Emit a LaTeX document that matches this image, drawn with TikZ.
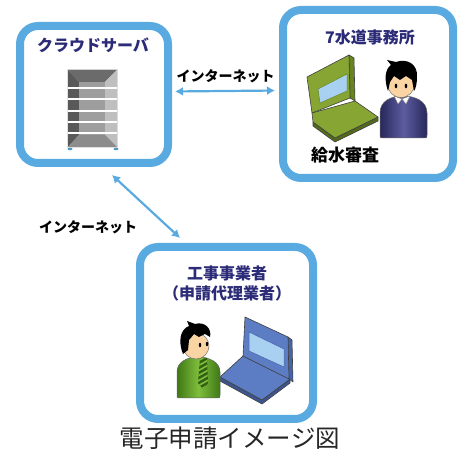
\documentclass[tikz,border=0pt]{standalone}
\usepackage{fontspec}
\setmainfont{Noto Sans CJK JP}
\usetikzlibrary{arrows.meta}

\definecolor{frameblue}{RGB}{88,170,224}
\definecolor{headnavy}{RGB}{43,43,120}
\definecolor{skin}{RGB}{250,212,162}
\definecolor{navyd}{RGB}{40,40,92}
\definecolor{navyl}{RGB}{92,92,160}
\definecolor{greend}{RGB}{62,120,22}
\definecolor{greenl}{RGB}{128,190,60}
\definecolor{padgreen}{RGB}{134,165,50}
\definecolor{padgreend}{RGB}{104,132,34}
\definecolor{padblue}{RGB}{92,124,196}
\definecolor{padblued}{RGB}{70,100,170}
\definecolor{screen}{RGB}{168,208,240}

\tikzset{
  panel/.style={draw=frameblue, line width=8pt, rounded corners=18pt, fill=white},
  link/.style={<->, draw=frameblue, line width=2.2pt},
  head/.style={font=\fontsize{16}{20}\selectfont\bfseries, text=headnavy, align=center},
  netlabel/.style={font=\fontsize{14}{16}\selectfont\bfseries},
  edge/.style={draw=black!75, line width=.6pt, line join=round},
}

\begin{document}
\begin{tikzpicture}[x=1pt,y=-1pt,>={Latex[length=8pt,width=9pt]}]
  \useasboundingbox (0,0) rectangle (461,454);

  % the three places
  \node[panel, minimum width=148pt, minimum height=137pt] (cloud) at (94,94.5) {};
  \node[panel, minimum width=170pt, minimum height=168pt] (office) at (368,94) {};
  \node[panel, minimum width=173pt, minimum height=172pt] (agent) at (226.5,333) {};

  \node[head] (cloudname) at (93,45) {クラウドサーバ};
  \node[head] (officename) at (370,37) {7水道事務所};
  \node[head] (agentname) at (227,283) {工事事業者\\（申請代理業者）};
  \node[font=\fontsize{17}{20}\selectfont\bfseries] (review) at (345,155) {給水審査};

  % links over the internet
  \draw[link, shorten <=3pt, shorten >=4pt] ([yshift=3pt]cloud.east) -- ([yshift=3.5pt]office.west)
    node[netlabel, midway, above=4pt] (net1) {インターネット};
  \draw[link, shorten <=11.7pt, shorten >=7.4pt] ([xshift=9.4pt]cloud.south) -- ([xshift=-41pt]agent.north);
  \node[netlabel] (net2) at (88,227) {インターネット};

  % server rack
  \fill[black!12] (67,69) rectangle (118,148);
  \fill[black!58] (68,70) -- (117,70) -- (105,82) -- (79,82) -- cycle;
  \fill[black!65] (68,70) -- (79,82) -- (79,135) -- (68,147) -- cycle;
  \fill[black!25] (117,70) -- (105,82) -- (105,135) -- (117,147) -- cycle;
  \fill[black!45] (68,147) -- (79,135) -- (105,135) -- (117,147) -- cycle;
  \fill[black!38] (79,82) rectangle (105,135);
  \foreach \y in {88,99,111,122,133}
    \draw[white, line width=1.2pt] (68,\y) -- (117,\y);
  \fill[frameblue!90!black] (70,149) ellipse (2.5 and 1.3);
  \fill[frameblue!90!black] (116,149) ellipse (2.5 and 1.3);

  % laptop in the office
  \filldraw[edge, fill=padgreend] (349,55) -- (354,58) -- (355,101) -- (350,98) -- cycle;
  \filldraw[edge, fill=padgreen] (307,77) -- (349,55) -- (350,98) -- (312,113) -- cycle;
  \filldraw[draw=padgreend, fill=screen, line width=.5pt] (318,89) -- (347,74) -- (347,91) -- (320,103) -- cycle;
  \filldraw[edge, fill=padgreend!80!black] (313,122) -- (335,138) -- (378,117) -- (378,121) -- (335,142) -- (313,126) -- cycle;
  \filldraw[edge, fill=padgreen] (312,113) -- (355,101) -- (378,117) -- (335,138) -- (313,122) -- cycle;

  % clerk
  \shadedraw[left color=navyd, right color=navyd, middle color=navyl, draw=black!60, line width=.5pt]
    (380,135) -- (380,113) .. controls (380,101) and (391,96) .. (403,96)
    .. controls (415,96) and (427,101) .. (427,113) -- (427,135)
    .. controls (427,138) .. (424,138) -- (383,138) .. controls (380,138) .. (380,135) -- cycle;
  \filldraw[white, draw=black!50, line width=.4pt] (394,96) -- (402,99) -- (398,104) -- cycle;
  \filldraw[white, draw=black!50, line width=.4pt] (402,99) -- (410,96) -- (406,104) -- cycle;
  \filldraw[fill=skin, draw=black!55, line width=.5pt] (401,84) circle (13.5);
  \fill[black] (388,91) .. controls (384,80) and (385,69) .. (391,65) -- (387,60) -- (396,62)
    .. controls (407,58) and (418,64) .. (417,77) .. controls (417,83) and (416,88) .. (414,91)
    -- (412,80) -- (406,76) -- (400,80) -- (394,76) -- (390,82) -- cycle;
  \fill (396,86) ellipse (1.3 and 2.3);
  \fill (406,86) ellipse (1.3 and 2.3);

  % laptop of the contractor
  \filldraw[edge, fill=padblued!85!black] (220,377) -- (262,400) -- (290,379) -- (290,383) -- (262,404) -- (220,381) -- cycle;
  \filldraw[edge, fill=padblue] (243,356) -- (290,379) -- (262,400) -- (220,377) -- cycle;
  \filldraw[edge, fill=padblued] (288,337) -- (292,340) -- (293,382) -- (289,379) -- cycle;
  \filldraw[edge, fill=padblue] (245,317) -- (288,337) -- (289,379) -- (243,356) -- cycle;
  \filldraw[draw=padblued, fill=screen, line width=.5pt] (249,332) -- (284,349) -- (284,367) -- (249,351) -- cycle;

  % contractor
  \shadedraw[left color=greend, right color=greend, middle color=greenl, draw=black!60, line width=.5pt]
    (177,395) -- (177,372) .. controls (177,362) and (187,357) .. (198,357)
    .. controls (209,357) and (220,362) .. (220,372) -- (220,395)
    .. controls (220,398) .. (217,398) -- (180,398) .. controls (177,398) .. (177,395) -- cycle;
  \begin{scope}
    \clip (200,358) -- (207,358) -- (208,383) -- (203,389) -- (198,383) -- cycle;
    \fill[greend!80!black] (195,355) rectangle (212,392);
    \foreach \k in {0,...,6}
      \draw[greenl, line width=1.6pt] (196,362+5*\k) -- (212,353+5*\k);
  \end{scope}
  \filldraw[fill=skin, draw=black!55, line width=.5pt] (196,346) circle (13);
  \fill[black] (183,354) .. controls (178,342) and (180,329) .. (189,326) -- (187,321) -- (195,324)
    .. controls (205,321) and (212,329) .. (210,337) -- (205,334) -- (199,337) -- (194,334)
    -- (189,340) -- (188,350) -- cycle;
  \fill (200,345) ellipse (1.2 and 2.2);
  \fill (207,344) ellipse (1.2 and 2.2);

  \node[font=\fontsize{24.5}{28}\selectfont, text=black!85] (caption) at (230,438) {電子申請イメージ図};
\end{tikzpicture}
\end{document}
